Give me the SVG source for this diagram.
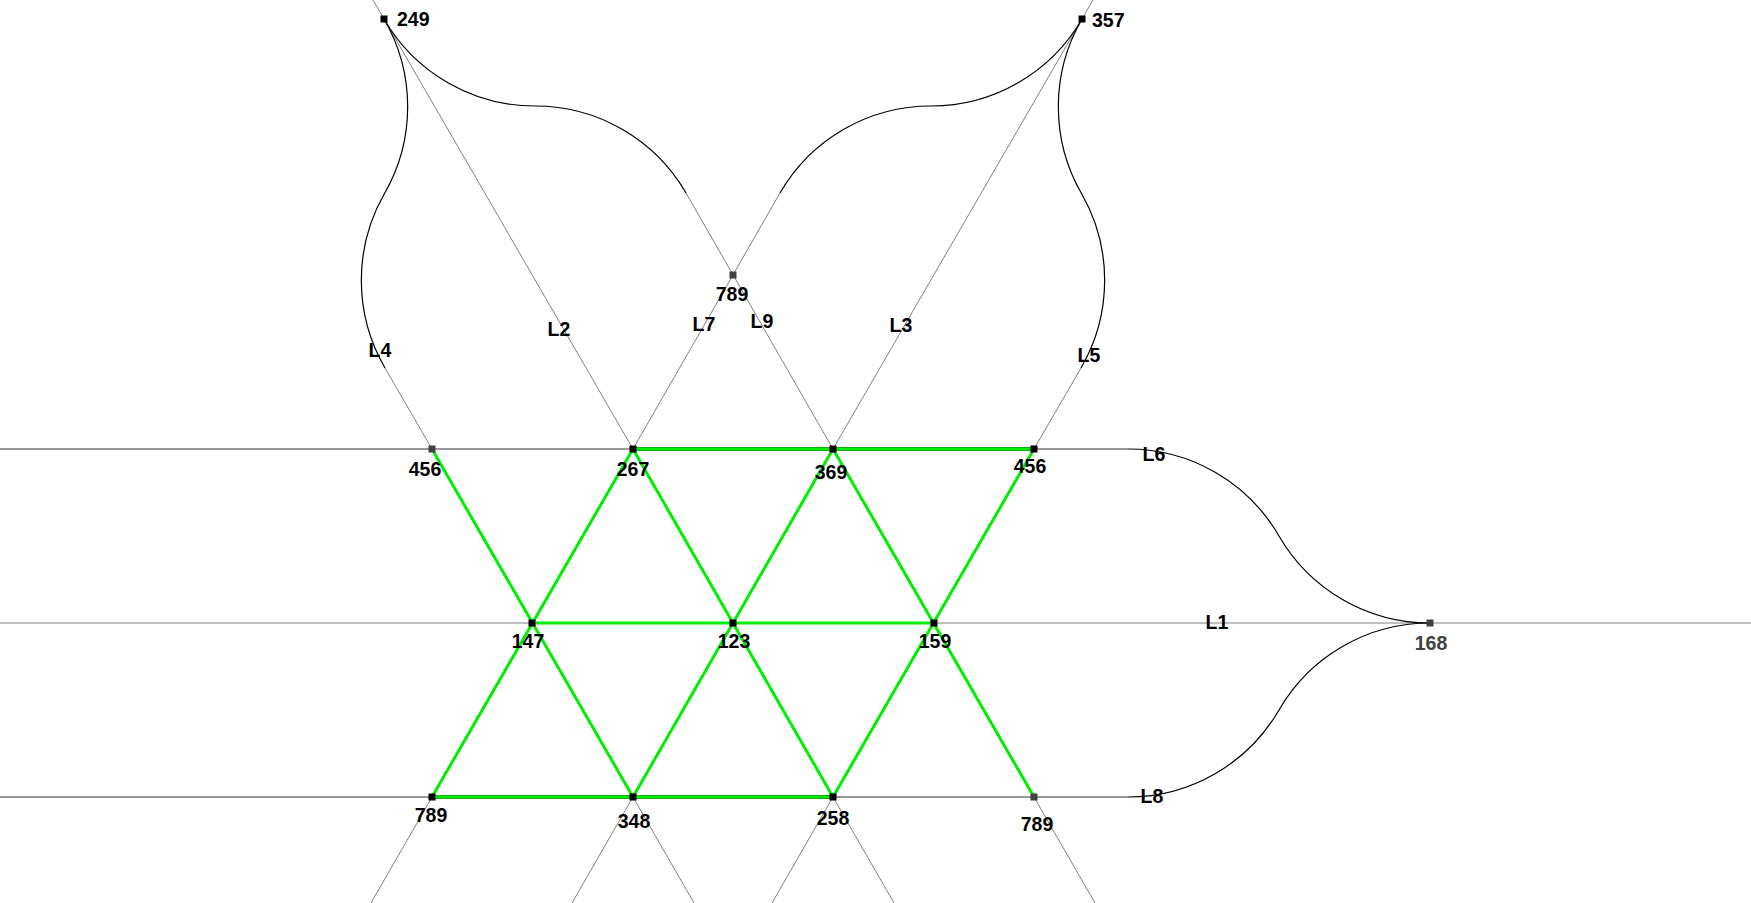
<svg xmlns="http://www.w3.org/2000/svg" width="1751" height="903" viewBox="0 0 1751 903">
<style>
.bg{fill:#fff}
.g1{stroke:#808080;stroke-width:1;fill:none}
.g2{stroke:#333;stroke-width:1.2;fill:none}
.cv{stroke:#000;stroke-width:1.2;fill:none}
.gr{stroke:#00ee00;stroke-width:3;fill:none;stroke-linecap:round}
.grb{stroke:#2a6a2a;stroke-width:4;fill:none}
.nd{fill:#000}
.nd2{fill:#404040}
text{font-family:"Liberation Sans",Arial,sans-serif;font-weight:bold;font-size:19.5px;fill:#000}
.lb{text-anchor:middle}
.lg{fill:#404040}
</style>
<rect class="bg" x="0" y="0" width="1751" height="903"/>
<g id="connectors">
  <line class="g2" x1="0" y1="449" x2="1128" y2="449"/>
  <line class="g1" x1="0" y1="623" x2="1751" y2="623"/>
  <line class="g2" x1="0" y1="797" x2="1128" y2="797"/>
  <line class="g1" x1="373" y1="0" x2="633" y2="449"/>
  <line class="g1" x1="1093" y1="0" x2="833" y2="449"/>
  <line class="g1" x1="686" y1="193" x2="833" y2="449"/>
  <line class="g1" x1="780" y1="193" x2="633" y2="449"/>
  <line class="g1" x1="385" y1="368" x2="432" y2="449"/>
  <line class="g1" x1="1081" y1="368" x2="1034" y2="449"/>
  <line class="g1" x1="432" y1="797" x2="371" y2="903"/>
  <line class="g1" x1="633" y1="797" x2="572" y2="903"/>
  <line class="g1" x1="633" y1="797" x2="694" y2="903"/>
  <line class="g1" x1="833" y1="797" x2="772" y2="903"/>
  <line class="g1" x1="833" y1="797" x2="894" y2="903"/>
  <line class="g1" x1="1034" y1="797" x2="1095" y2="903"/>
  <path class="cv" d="M384 19 A174.3 174.3 0 0 1 384.5 193.5 A174.3 174.3 0 0 0 385 368"/>
  <path class="cv" d="M1082 19 A174.3 174.3 0 0 0 1081.5 193.5 A174.3 174.3 0 0 1 1081 368"/>
  <path class="cv" d="M384 19 A174.3 174.3 0 0 0 535 106 A174.3 174.3 0 0 1 686 193"/>
  <path class="cv" d="M1082 19 A174.3 174.3 0 0 1 931 106 A174.3 174.3 0 0 0 780 193"/>
  <path class="cv" d="M1128 449 A174.3 174.3 0 0 1 1279 536 A174.3 174.3 0 0 0 1430 623"/>
  <path class="cv" d="M1128 797 A174.3 174.3 0 0 0 1279 710 A174.3 174.3 0 0 1 1430 623"/>
  <line class="grb" x1="633" y1="449" x2="1034" y2="449"/>
  <line class="grb" x1="432" y1="797" x2="833" y2="797"/>
  <line class="gr" x1="633" y1="449" x2="1034" y2="449"/>
  <line class="gr" x1="532" y1="623" x2="934" y2="623"/>
  <line class="gr" x1="432" y1="797" x2="833" y2="797"/>
  <line class="gr" x1="432" y1="449" x2="633" y2="797"/>
  <line class="gr" x1="633" y1="449" x2="432" y2="797"/>
  <line class="gr" x1="633" y1="449" x2="833" y2="797"/>
  <line class="gr" x1="833" y1="449" x2="633" y2="797"/>
  <line class="gr" x1="833" y1="449" x2="1034" y2="797"/>
  <line class="gr" x1="1034" y1="449" x2="833" y2="797"/>
  <text class="lb" x="1217" y="629">L1</text>
  <text class="lb" x="559" y="336">L2</text>
  <text class="lb" x="901" y="332">L3</text>
  <text class="lb" x="380" y="357">L4</text>
  <text class="lb" x="1089" y="362">L5</text>
  <text class="lb" x="1154" y="461">L6</text>
  <text class="lb" x="704" y="331">L7</text>
  <text class="lb" x="1152" y="803">L8</text>
  <text class="lb" x="762" y="328">L9</text>
</g>
<g id="n249"><rect class="nd" x="380.5" y="15.5" width="7" height="7"/><text x="397" y="26">249</text></g>
<g id="n357"><rect class="nd" x="1078.5" y="15.5" width="7" height="7"/><text x="1092" y="27">357</text></g>
<g id="n789top"><rect class="nd2" x="729.5" y="271.5" width="7" height="7"/><text class="lb" x="732" y="301">789</text></g>
<g id="n456left"><rect class="nd2" x="428.5" y="445.5" width="7" height="7"/><text class="lb" x="425" y="476">456</text></g>
<g id="n267"><rect class="nd" x="629.5" y="445.5" width="7" height="7"/><text class="lb" x="633" y="476">267</text></g>
<g id="n369"><rect class="nd" x="829.5" y="445.5" width="7" height="7"/><text class="lb" x="831" y="479">369</text></g>
<g id="n456right"><rect class="nd" x="1030.5" y="445.5" width="7" height="7"/><text class="lb" x="1030" y="473">456</text></g>
<g id="n147"><rect class="nd" x="528.5" y="619.5" width="7" height="7"/><text class="lb" x="528" y="648">147</text></g>
<g id="n123"><rect class="nd" x="729.5" y="619.5" width="7" height="7"/><text class="lb" x="734" y="648">123</text></g>
<g id="n159"><rect class="nd" x="930.5" y="619.5" width="7" height="7"/><text class="lb" x="935" y="648">159</text></g>
<g id="n168"><rect class="nd2" x="1426.5" y="619.5" width="7" height="7"/><text class="lb lg" x="1431" y="650">168</text></g>
<g id="n789bl"><rect class="nd" x="428.5" y="793.5" width="7" height="7"/><text class="lb" x="431" y="822">789</text></g>
<g id="n348"><rect class="nd" x="629.5" y="793.5" width="7" height="7"/><text class="lb" x="634" y="828">348</text></g>
<g id="n258"><rect class="nd" x="829.5" y="793.5" width="7" height="7"/><text class="lb" x="833" y="825">258</text></g>
<g id="n789br"><rect class="nd2" x="1030.5" y="793.5" width="7" height="7"/><text class="lb" x="1037" y="831">789</text></g>
</svg>
